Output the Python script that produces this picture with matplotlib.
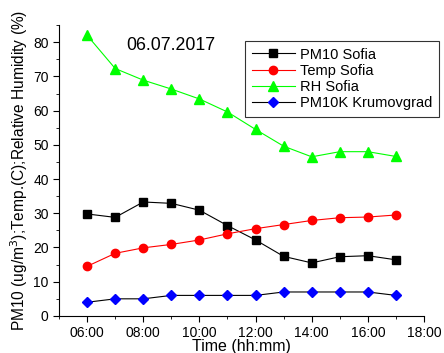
import matplotlib.pyplot as plt

plt.rcParams['font.family'] = ['Liberation Sans', 'DejaVu Sans']

# hours of the day
hours = [6, 7, 8, 9, 10, 11, 12, 13, 14, 15, 16, 17]
pm10_sofia = [29.8, 28.8, 33.3, 32.9, 30.9, 26.4, 22.2, 17.4, 15.5, 17.3, 17.6, 16.4]
temp_sofia = [14.5, 18.3, 19.9, 20.9, 22.2, 24.0, 25.5, 26.7, 27.9, 28.7, 28.9, 29.5]
rh_sofia = [82.0, 72.3, 68.9, 66.3, 63.4, 59.6, 54.5, 49.6, 46.5, 48.0, 48.0, 46.6]
pm10_krumovgrad = [4, 5, 5, 6, 6, 6, 6, 7, 7, 7, 7, 6]

x_ticks = [6, 8, 10, 12, 14, 16, 18]
x_labels = ['06:00', '08:00', '10:00', '12:00', '14:00', '16:00', '18:00']

fig = plt.figure(figsize=(4.44, 3.53), dpi=100)
ax = fig.add_axes([0.133, 0.105, 0.822, 0.824])

ax.plot(hours, pm10_sofia, color='black', lw=0.8, marker='s', ms=5.5,
        mfc='black', mec='black', label='PM10 Sofia')
ax.plot(hours, temp_sofia, color='red', lw=0.8, marker='o', ms=6,
        mfc='red', mec='red', label='Temp Sofia')
ax.plot(hours, rh_sofia, color='#00ff00', lw=0.8, marker='^', ms=7,
        mfc='#00ff00', mec='#00ff00', label='RH Sofia')
ax.plot(hours, pm10_krumovgrad, color='black', lw=0.8, marker='D', ms=5.5,
        mfc='blue', mec='blue', label='PM10K Krumovgrad')

ax.set_xlim(5, 18)
ax.set_ylim(0, 85)
ax.set_xticks(x_ticks)
ax.set_xticklabels(x_labels)
ax.set_xticks(range(5, 18), minor=True)
ax.set_yticks(range(0, 81, 10))
ax.set_yticks(range(0, 86, 5), minor=True)
ax.tick_params(which='both', direction='out', labelsize=10)
ax.tick_params(which='major', length=4)
ax.tick_params(which='minor', length=2.5)

for side in ['top', 'right']:
    ax.spines[side].set_visible(False)

ax.set_xlabel('Time (hh:mm)', fontsize=11.5, labelpad=-1)
ax.set_ylabel('PM10 (ug/m$^3$);Temp.(C);Relative Humidity (%)', fontsize=11.2, labelpad=2)

# date label
fig.text(126 / 444, 1 - 46 / 353, '06.07.2017', fontsize=12.8, va='center')

leg = fig.legend(loc='upper left', bbox_to_anchor=(245 / 444, 1 - 41 / 353),
                 fontsize=10.5, frameon=True, fancybox=False, edgecolor='black',
                 handlelength=3.0, handletextpad=0.3, borderpad=0.45,
                 labelspacing=0.15, borderaxespad=0)
leg.get_frame().set_linewidth(0.8)

fig.savefig('out.png', dpi=100)
